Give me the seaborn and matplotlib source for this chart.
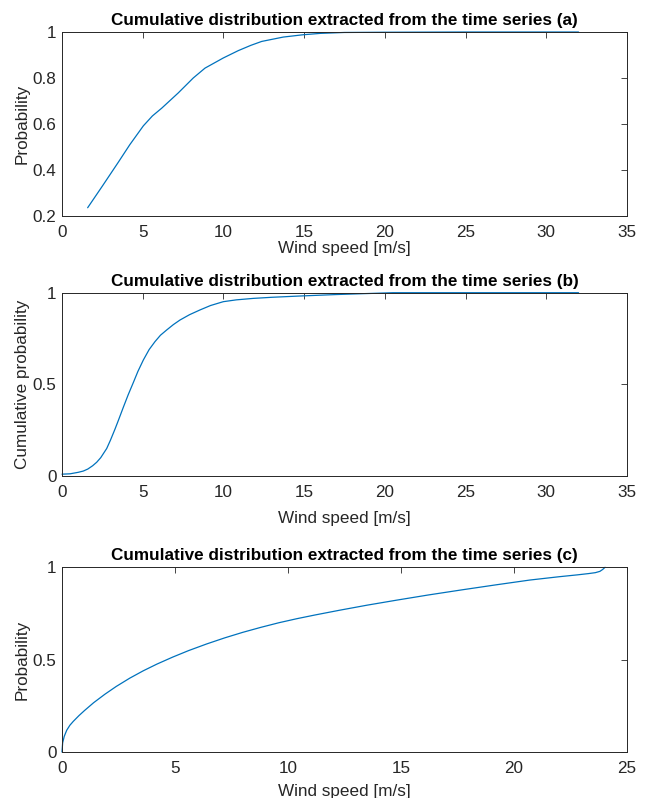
import numpy as np
import pandas as pd
import matplotlib
matplotlib.use("Agg")
import matplotlib.pyplot as plt
import seaborn as sns

# Panel (a)
speed_a = [1.59, 2.5, 3.5, 4.2, 5.04, 5.6, 6.18, 7.2, 8.13, 8.86, 9.99, 10.92, 11.7, 12.37, 13.71, 14.93, 16.0, 17.5, 20.0, 25.0, 32.0]
prob_a = [0.236, 0.33, 0.435, 0.51, 0.592, 0.635, 0.669, 0.735, 0.80, 0.843, 0.887, 0.919, 0.942, 0.959, 0.978, 0.988, 0.994, 0.998, 0.999, 1.0, 1.0]

# Panel (b)
speed_b = [0.0, 0.5, 1.0, 1.32, 1.6, 1.9, 2.15, 2.4, 2.77, 3.0, 3.28, 3.5, 3.8, 4.1, 4.42, 4.7, 5.04, 5.4, 5.76, 6.1, 6.49, 6.9, 7.31, 7.9, 8.55, 9.2, 9.99, 10.8, 11.85, 13.0, 14.75, 17.0, 20.5, 25.0, 32.0]
prob_b = [0.01, 0.012, 0.02, 0.027, 0.038, 0.056, 0.075, 0.10, 0.15, 0.195, 0.255, 0.305, 0.375, 0.443, 0.51, 0.57, 0.633, 0.69, 0.733, 0.768, 0.797, 0.826, 0.851, 0.88, 0.906, 0.93, 0.951, 0.961, 0.969, 0.975, 0.982, 0.99, 1.0, 1.0, 1.0]

# Panel (c)
speed_c = [0.0, 0.03, 0.1, 0.21, 0.35, 0.5, 0.75, 1.0, 1.4, 1.9, 2.4, 3.0, 3.6, 4.2, 4.9, 5.6, 6.4, 7.2, 8.0, 8.8, 9.6, 10.4, 11.2, 12.3, 13.5, 14.8, 16.2, 17.7, 19.2, 20.7, 22.0, 22.8, 23.3, 23.6, 23.8, 23.92, 24.03]
prob_c = [0.0, 0.05, 0.085, 0.118, 0.145, 0.166, 0.197, 0.225, 0.267, 0.313, 0.355, 0.400, 0.440, 0.476, 0.514, 0.549, 0.585, 0.618, 0.648, 0.675, 0.700, 0.722, 0.742, 0.768, 0.795, 0.822, 0.850, 0.878, 0.905, 0.931, 0.949, 0.959, 0.966, 0.971, 0.978, 0.988, 1.0]

titles = ["Cumulative distribution extracted from the time series (a)",
          "Cumulative distribution extracted from the time series (b)",
          "Cumulative distribution extracted from the time series (c)"]
ylabels = ["Probability", "Cumulative probability", "Probability"]
xlabel = "Wind speed [m/s]"

sns.set_theme(style="white")
plt.rcParams['font.family'] = ['Liberation Sans', 'DejaVu Sans']
dark = '#262626'
line_col = '#0072BD'
fs = 12.3

fig = plt.figure(figsize=(6.47, 7.98), dpi=100)
positions = [
    [0.0958, 0.7293, 0.8733, 0.2306],
    [0.0958, 0.4035, 0.8733, 0.2297],
    [0.0958, 0.0576, 0.8733, 0.2315],
]
datasets = [(speed_a, prob_a), (speed_b, prob_b), (speed_c, prob_c)]
xlims = [(0, 35), (0, 35), (0, 25)]
ylims = [(0.2, 1.0), (0, 1), (0, 1)]
yticks = [[0.2, 0.4, 0.6, 0.8, 1.0], [0, 0.5, 1], [0, 0.5, 1]]
ytl = [["0.2", "0.4", "0.6", "0.8", "1"], ["0", "0.5", "1"], ["0", "0.5", "1"]]
xticks = [np.arange(0, 36, 5), np.arange(0, 36, 5), np.arange(0, 26, 5)]
xlabelpads = [0.5, 8, 6]

for i, pos in enumerate(positions):
    ax = fig.add_axes(pos)
    df = pd.DataFrame({"speed": datasets[i][0], "prob": datasets[i][1]})
    sns.lineplot(data=df, x="speed", y="prob", ax=ax, color=line_col, linewidth=0.9, clip_on=False)
    ax.set_xlim(*xlims[i])
    ax.set_ylim(*ylims[i])
    ax.set_xticks(xticks[i])
    ax.set_xticklabels([str(v) for v in xticks[i]])
    ax.set_yticks(yticks[i])
    ax.set_yticklabels(ytl[i])
    ax.set_title(titles[i], fontsize=fs, fontweight='bold', color='black', pad=5)
    ax.set_xlabel(xlabel, fontsize=fs, color=dark, labelpad=xlabelpads[i])
    ax.set_ylabel(ylabels[i], fontsize=fs, color=dark, labelpad=2)
    ax.tick_params(axis='both', which='both', direction='in', length=4, width=0.6,
                   top=True, right=True, colors=dark, labelsize=fs)
    ax.tick_params(axis='x', pad=6.5)
    ax.tick_params(axis='y', pad=4)
    for s in ax.spines.values():
        s.set_visible(True)
        s.set_color(dark)
        s.set_linewidth(0.7)
    ax.set_facecolor('white')

fig.savefig("out.png", dpi=100, facecolor='white')
